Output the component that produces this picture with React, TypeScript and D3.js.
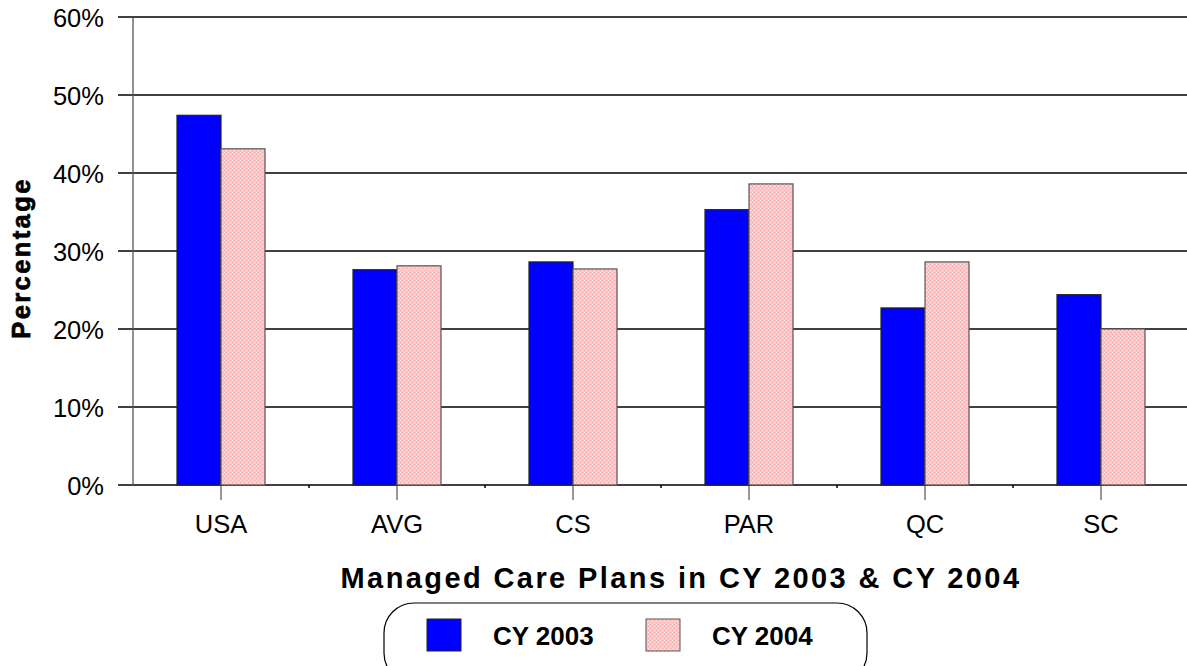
import React from "react";
import * as d3 from "d3";

const categories = ["USA", "AVG", "CS", "PAR", "QC", "SC"];
const seriesNames = ["CY 2003", "CY 2004"];
const cy2003 = [47.4, 27.6, 28.6, 35.3, 22.7, 24.4];
const cy2004 = [43.1, 28.1, 27.7, 38.6, 28.6, 20.0];
const yTicks = [0, 10, 20, 30, 40, 50, 60];

const W = 1187, H = 666;
const plotLeft = 133, plotRight = 1189, plotTop = 17, plotBottom = 485;

export default function App() {
  const x = d3.scaleBand<string>().domain(categories).range([plotLeft, plotRight]);
  const inner = d3.scaleBand<string>().domain(seriesNames).range([0, x.bandwidth() / 2]);
  const y = d3.scaleLinear().domain([0, 60]).range([plotBottom, plotTop]);
  const series = [cy2003, cy2004];
  const fills = ["#0000ff", "url(#pinkPat)"];
  const font = "Arial, 'Liberation Sans', sans-serif";

  return (
    <svg width={W} height={H} style={{ position: "absolute", left: 0, top: 0 }} fontFamily={font}>
      <defs>
        <pattern id="pinkPat" width="4" height="4" patternUnits="userSpaceOnUse">
          <rect width="4" height="4" fill="#ffc4c4" />
          <rect x="0" y="0" width="1" height="1" fill="#ffe4e4" />
          <rect x="2" y="2" width="1" height="1" fill="#ffe4e4" />
          <rect x="2" y="0" width="1" height="1" fill="#ffaaaa" />
          <rect x="0" y="2" width="1" height="1" fill="#ffaaaa" />
        </pattern>
      </defs>
      <rect width={W} height={H} fill="#fff" />
      {yTicks.map((t) => (
        <g key={t}>
          <line x1={118} x2={W} y1={y(t)} y2={y(t)} stroke="#000" strokeWidth={1.3} />
          <text x={104} y={y(t) + 10} textAnchor="end" fontSize={25.5}>{t}%</text>
        </g>
      ))}
      <line x1={plotLeft} x2={plotLeft} y1={plotTop} y2={plotBottom} stroke="#555" strokeWidth={1.3} />
      {categories.map((c, i) => {
        const cx = (x(c) as number) + x.bandwidth() / 2;
        return (
          <g key={c}>
            {i > 0 && (
              <line x1={x(c) as number} x2={x(c) as number} y1={plotBottom} y2={plotBottom + 3} stroke="#000" strokeWidth={1.5} />
            )}
            <line x1={cx} x2={cx} y1={plotBottom} y2={plotBottom + 15} stroke="#333" strokeWidth={1} />
            <text x={cx} y={533} textAnchor="middle" fontSize={25.5}>{c}</text>
          </g>
        );
      })}
      {categories.map((c, i) => {
        const gx = (x(c) as number) + x.bandwidth() / 4;
        return (
          <g key={c}>
            {series.map((s, si) => (
              <rect
                key={si}
                x={gx + (inner(seriesNames[si]) as number)}
                y={y(s[i])}
                width={inner.bandwidth()}
                height={plotBottom - y(s[i])}
                fill={fills[si]}
                stroke={si === 0 ? "#222" : "#555"}
                strokeWidth={1.2}
              />
            ))}
          </g>
        );
      })}
      <text transform={`translate(30,258) rotate(-90)`} textAnchor="middle" fontSize={25.5} fontWeight="bold" letterSpacing={2.4} stroke="#000" strokeWidth={0.7}>Percentage</text>
      <text x={681} y={588} textAnchor="middle" fontSize={29} fontWeight="bold" letterSpacing={2.4}>Managed Care Plans in CY 2003 &amp; CY 2004</text>
      <rect x={384} y={603} width={483} height={80} rx={30} ry={30} fill="#fff" stroke="#000" strokeWidth={1.2} />
      <rect x={427} y={619} width={34} height={32} fill="#0000ff" stroke="#222" strokeWidth={1} />
      <text x={493} y={645} fontSize={26} fontWeight="bold">{seriesNames[0]}</text>
      <rect x={646} y={619} width={34} height={32} fill="url(#pinkPat)" stroke="#555" strokeWidth={1} />
      <text x={712} y={645} fontSize={26} fontWeight="bold">{seriesNames[1]}</text>
    </svg>
  );
}
